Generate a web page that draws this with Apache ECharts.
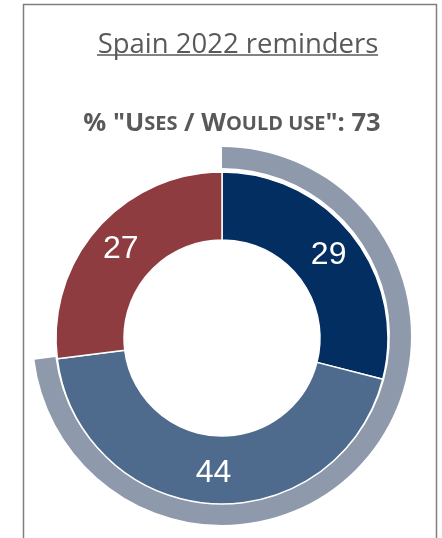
<!DOCTYPE html>
<html>
<head>
<meta charset="utf-8">
<script src="https://cdn.jsdelivr.net/npm/echarts@6/dist/echarts.min.js"></script>
<style>
html,body{margin:0;padding:0;background:#fff;}
#c{width:442px;height:538px;}
</style>
</head>
<body>
<div id="c"></div>
<script>
const titleText = 'Spain 2022 reminders';
const categories = ['Uses', 'Would use', 'Would not use'];
const values = [29, 44, 27];
const usesWouldUse = 73;
const colors = ['#022e62', '#4e6a8d', '#8e3c3f'];

const chart = echarts.init(document.getElementById('c'), null, {renderer: 'canvas'});
const option = {
  animation: false,
  graphic: [
    {type: 'rect', shape: {x: 23.5, y: 4.5, width: 413, height: 560}, style: {fill: 'none', stroke: '#7f7f7f', lineWidth: 1.5}, silent: true},
    {type: 'text', x: 238, y: 45, style: {text: titleText, font: '27.5px "Open Sans"', fill: '#595959', align: 'center', verticalAlign: 'middle'}},
    {type: 'line', shape: {x1: 97, y1: 55, x2: 378, y2: 55}, style: {stroke: '#595959', lineWidth: 1.5}},
    {type: 'text', x: 232, y: 124, style: {
      text: '{b|% "U}{s|SES}{b| / W}{s|OULD USE}{b|": ' + usesWouldUse + '}',
      align: 'center', verticalAlign: 'middle',
      rich: {
        b: {fontFamily: 'Open Sans', fontWeight: 'bold', fontSize: 25.5, fill: '#595959', color: '#595959'},
        s: {fontFamily: 'Open Sans', fontWeight: 'bold', fontSize: 20, fill: '#595959', color: '#595959'}
      }
    }}
  ],
  series: [
    {
      type: 'pie',
      center: [222, 336],
      radius: [168, 189],
      startAngle: 90,
      clockwise: true,
      silent: true,
      label: {show: false},
      labelLine: {show: false},
      data: [
        {value: usesWouldUse, itemStyle: {color: '#8e9aab'}},
        {value: 100 - usesWouldUse, itemStyle: {color: 'rgba(0,0,0,0)'}}
      ]
    },
    {
      type: 'pie',
      center: [222, 338],
      radius: [98, 166],
      startAngle: 90,
      clockwise: true,
      silent: true,
      itemStyle: {borderColor: '#ffffff', borderWidth: 1.5},
      label: {show: true, position: 'inside', formatter: '{c}', color: '#ffffff', fontFamily: 'Liberation Sans', fontSize: 32},
      labelLine: {show: false},
      data: categories.map((c, i) => ({name: c, value: values[i], itemStyle: {color: colors[i]}}))
    }
  ]
};
chart.setOption(option);
</script>
</body>
</html>
